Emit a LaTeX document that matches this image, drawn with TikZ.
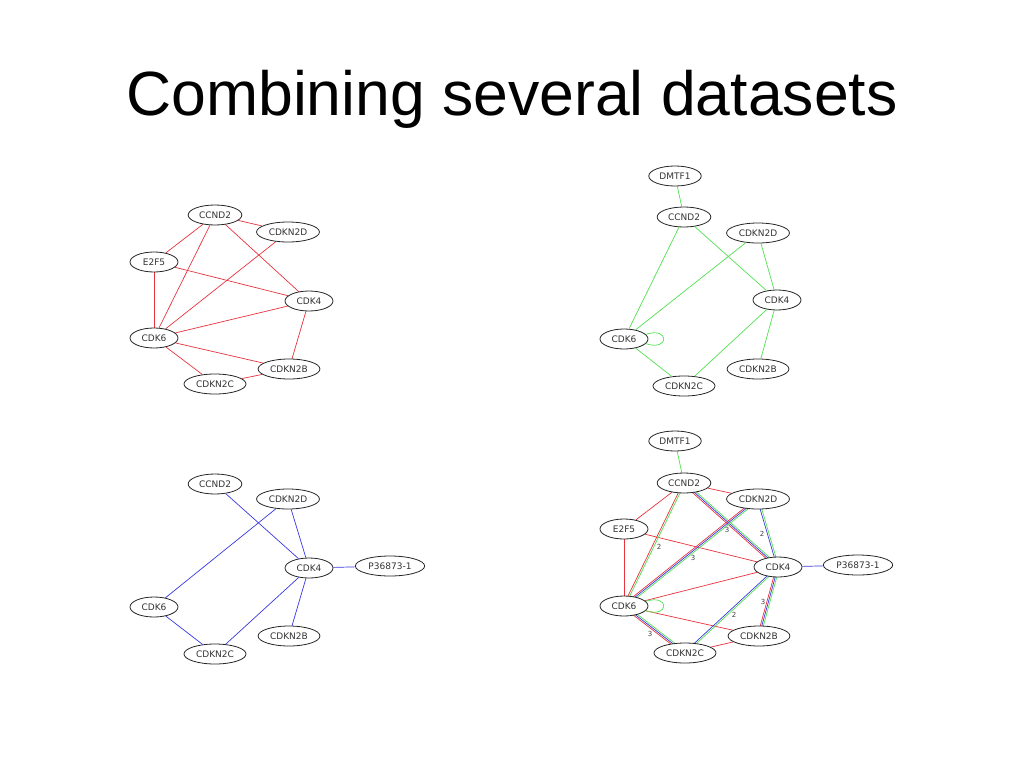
\documentclass[tikz,border=0pt]{standalone}
\usepackage{fontspec}
\setmainfont{Liberation Sans}
\newfontfamily\genefont{DejaVu Sans}
\usetikzlibrary{shapes.geometric,calc,backgrounds}
\definecolor{edgered}{RGB}{232,50,60}
\definecolor{edgegreen}{RGB}{80,225,80}
\definecolor{edgeblue}{RGB}{55,55,225}
\tikzset{
  gene/.style={ellipse, draw=black!85, fill=white, line width=0.8pt,
    minimum width=48pt, minimum height=20pt, inner xsep=3pt, inner ysep=0pt,
    text=black!80, font={\genefont\fontsize{9}{10}\selectfont}},
  redge/.style={edgered, line width=0.7pt},
  gedge/.style={edgegreen, line width=0.7pt},
  bedge/.style={edgeblue, line width=0.7pt},
  num/.style={inner sep=0pt, text=black!75, font={\genefont\fontsize{7}{8}\selectfont}}
}
% one of several parallel lines between two nodes
\newcommand{\paredge}[4]{\draw[#4] ($(#1)!#3!90:(#2)$) -- ($(#2)!#3!-90:(#1)$);}

\begin{document}
\begin{tikzpicture}[x=1pt,y=-1pt]
\useasboundingbox (0,0) rectangle (1024,768);
\node[anchor=base, inner sep=0pt, font=\fontsize{62.5}{70}\selectfont] (title) at (512,115) {Combining several datasets};

% Dataset 1 (red)
\foreach \n/\t/\x/\y in {ccnd2/CCND2/215/215, cdkn2d/CDKN2D/288/232, e2f5/E2F5/154/262,
    cdk4/CDK4/309/301, cdk6/CDK6/154/338, cdkn2b/CDKN2B/289/369, cdkn2c/CDKN2C/215/384} {
    \node[gene] (r-\n) at (\x,\y) {\t};
}
\begin{pgfonlayer}{background}
\foreach \a/\b in {ccnd2/cdkn2d, ccnd2/e2f5, ccnd2/cdk6, ccnd2/cdk4, cdkn2d/cdk6, e2f5/cdk4,
    e2f5/cdk6, cdk6/cdk4, cdk4/cdkn2b, cdk6/cdkn2b, cdk6/cdkn2c, cdkn2c/cdkn2b} {
    \draw[redge] (r-\a) -- (r-\b);
}
\end{pgfonlayer}

% Dataset 2 (green)
\foreach \n/\t/\x/\y in {dmtf1/DMTF1/675/176, ccnd2/CCND2/684/217, cdkn2d/CDKN2D/758/233,
    cdk4/CDK4/777/300, cdk6/CDK6/624/339, cdkn2b/CDKN2B/758/369, cdkn2c/CDKN2C/684/386} {
    \node[gene] (g-\n) at (\x,\y) {\t};
}
\foreach \a/\b in {dmtf1/ccnd2, ccnd2/cdk6, ccnd2/cdk4, cdkn2d/cdk6, cdkn2d/cdk4,
    cdk4/cdkn2c, cdk4/cdkn2b, cdk6/cdkn2c} {
    \draw[gedge] (g-\a) -- (g-\b);
}
\draw[gedge] (g-cdk6.12) .. controls +(24,-8) and +(24,8) .. (g-cdk6.-12);

% Dataset 3 (blue)
\foreach \n/\t/\x/\y in {ccnd2/CCND2/215/484, cdkn2d/CDKN2D/288/499, cdk4/CDK4/309/568,
    p36873/P36873-1/390/566, cdk6/CDK6/154/607, cdkn2b/CDKN2B/289/636, cdkn2c/CDKN2C/215/654} {
    \node[gene] (b-\n) at (\x,\y) {\t};
}
\foreach \a/\b in {ccnd2/cdk4, cdkn2d/cdk4, cdkn2d/cdk6, cdk4/p36873, cdk4/cdkn2c,
    cdk4/cdkn2b, cdk6/cdkn2c} {
    \draw[bedge] (b-\a) -- (b-\b);
}

% Combined
\foreach \n/\t/\x/\y in {dmtf1/DMTF1/675/441, ccnd2/CCND2/684/483, cdkn2d/CDKN2D/758/499,
    e2f5/E2F5/624/529, cdk4/CDK4/778/567, p36873/P36873-1/858/565, cdk6/CDK6/624/606,
    cdkn2b/CDKN2B/759/636, cdkn2c/CDKN2C/685/653} {
    \node[gene] (m-\n) at (\x,\y) {\t};
}
\begin{pgfonlayer}{background}
\foreach \a/\b in {ccnd2/cdkn2d, ccnd2/e2f5, e2f5/cdk4, e2f5/cdk6, cdk6/cdk4, cdk6/cdkn2b,
    cdkn2c/cdkn2b} {
    \draw[redge] (m-\a) -- (m-\b);
}
\draw[gedge] (m-dmtf1) -- (m-ccnd2);
\draw[bedge] (m-cdk4) -- (m-p36873);
\foreach \a/\b/\o/\s in {ccnd2/cdk6/0.8pt/gedge, ccnd2/cdk6/-0.8pt/redge,
    cdkn2d/cdk4/0.8pt/gedge, cdkn2d/cdk4/-0.8pt/bedge,
    cdk4/cdkn2c/0.8pt/gedge, cdk4/cdkn2c/-0.8pt/bedge,
    ccnd2/cdk4/1.5pt/gedge, ccnd2/cdk4/0pt/bedge, ccnd2/cdk4/-1.5pt/redge,
    cdkn2d/cdk6/1.5pt/gedge, cdkn2d/cdk6/0pt/bedge, cdkn2d/cdk6/-1.5pt/redge,
    cdk4/cdkn2b/1.5pt/gedge, cdk4/cdkn2b/0pt/bedge, cdk4/cdkn2b/-1.5pt/redge,
    cdk6/cdkn2c/1.5pt/gedge, cdk6/cdkn2c/0pt/bedge, cdk6/cdkn2c/-1.5pt/redge} {
    \paredge{m-\a}{m-\b}{\o}{\s}
}
\end{pgfonlayer}
\draw[gedge] (m-cdk6.12) .. controls +(24,-8) and +(24,8) .. (m-cdk6.-12);

% edge counts
\node[num] (n1) at (659,547) {2};
\node[num] (n2) at (727,530) {3};
\node[num] (n3) at (693,558) {3};
\node[num] (n4) at (762,534) {2};
\node[num] (n5) at (763,602) {3};
\node[num] (n6) at (734,615) {2};
\node[num] (n7) at (650,634) {3};
\end{tikzpicture}
\end{document}
